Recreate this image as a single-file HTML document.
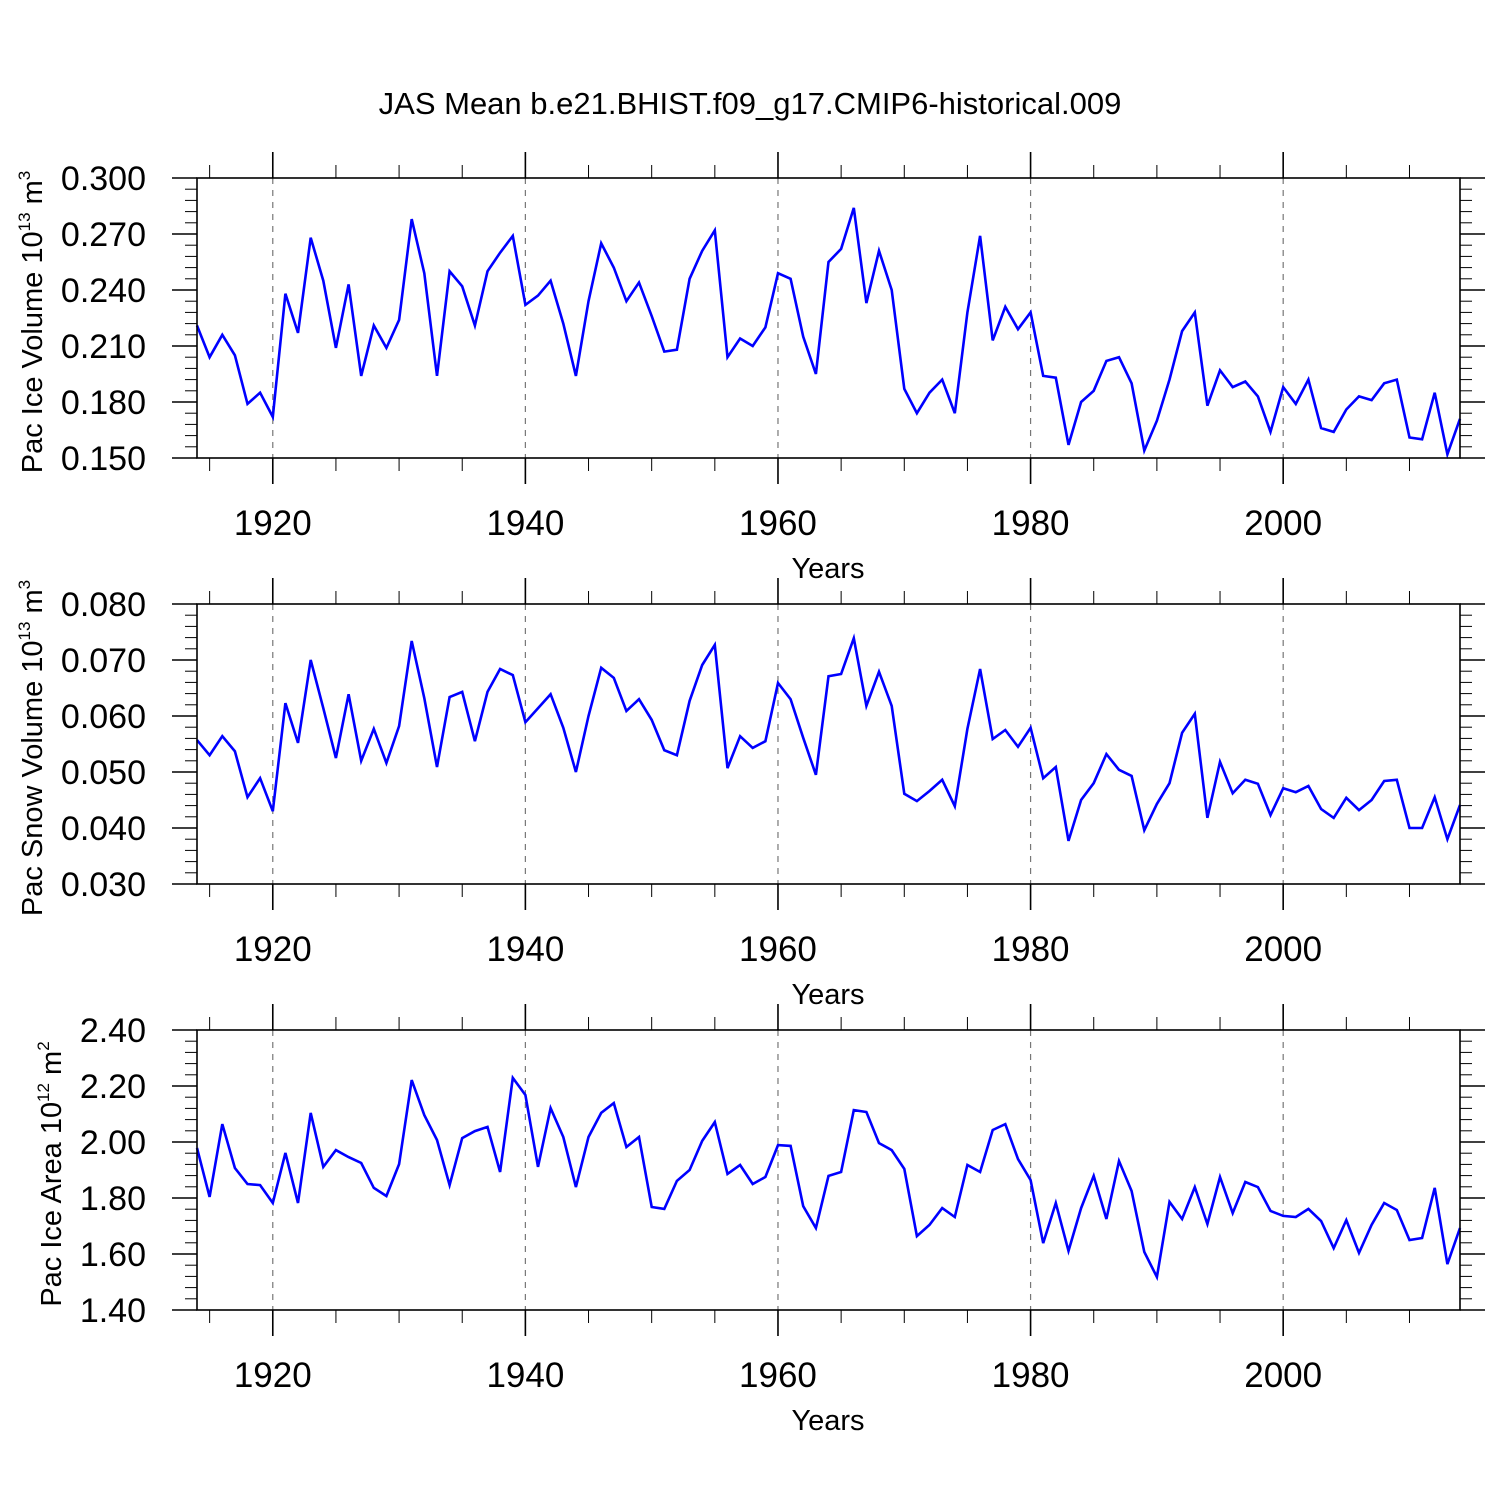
<!DOCTYPE html>
<html><head><meta charset="utf-8"><style>
html,body{margin:0;padding:0;background:#fff;}
svg{display:block;font-family:"Liberation Sans",sans-serif;}
</style></head><body>
<svg id="c" width="1500" height="1500" viewBox="0 0 1500 1500">
<rect width="1500" height="1500" fill="#fff"/>
<text x="750" y="114" text-anchor="middle" font-size="31">JAS Mean b.e21.BHIST.f09_g17.CMIP6-historical.009</text>
</svg>
<script>
const startYear = 1914;
const endYear = 2014;
const xTickYears = [1920, 1940, 1960, 1980, 2000];
const iceVolume = [0.221,0.204,0.216,0.205,0.179,0.185,0.172,0.238,0.217,0.268,0.245,0.209,0.243,0.194,0.221,0.209,0.224,0.278,0.249,0.194,0.250,0.242,0.221,0.250,0.260,0.269,0.232,0.237,0.245,0.222,0.194,0.234,0.265,0.252,0.234,0.244,0.226,0.207,0.208,0.246,0.261,0.272,0.204,0.214,0.210,0.220,0.249,0.246,0.215,0.195,0.255,0.262,0.284,0.233,0.261,0.240,0.187,0.174,0.185,0.192,0.174,0.228,0.269,0.213,0.231,0.219,0.228,0.194,0.193,0.157,0.180,0.186,0.202,0.204,0.190,0.154,0.170,0.192,0.218,0.228,0.178,0.197,0.188,0.191,0.183,0.164,0.188,0.179,0.192,0.166,0.164,0.176,0.183,0.181,0.190,0.192,0.161,0.160,0.185,0.152,0.171];
const snowVolume = [0.0557,0.0530,0.0564,0.0537,0.0455,0.0489,0.0430,0.0623,0.0552,0.0700,0.0614,0.0525,0.0639,0.0520,0.0577,0.0516,0.0582,0.0734,0.0632,0.0509,0.0634,0.0643,0.0555,0.0643,0.0684,0.0673,0.0589,0.0614,0.0639,0.0579,0.0500,0.0600,0.0686,0.0668,0.0609,0.0630,0.0593,0.0539,0.0530,0.0627,0.0691,0.0727,0.0507,0.0564,0.0543,0.0555,0.0659,0.0630,0.0561,0.0495,0.0671,0.0675,0.0739,0.0618,0.0679,0.0618,0.0461,0.0448,0.0466,0.0486,0.0439,0.0577,0.0684,0.0559,0.0575,0.0545,0.0579,0.0489,0.0509,0.0377,0.0450,0.0480,0.0532,0.0504,0.0493,0.0396,0.0443,0.0480,0.0570,0.0604,0.0418,0.0518,0.0462,0.0486,0.0479,0.0423,0.0471,0.0464,0.0475,0.0434,0.0418,0.0454,0.0432,0.0450,0.0484,0.0486,0.0400,0.0400,0.0455,0.0380,0.0441];
const iceArea = [1.979,1.804,2.064,1.907,1.850,1.846,1.782,1.961,1.782,2.104,1.911,1.971,1.946,1.925,1.836,1.807,1.921,2.221,2.096,2.007,1.846,2.014,2.039,2.054,1.893,2.229,2.168,1.911,2.121,2.018,1.839,2.018,2.104,2.139,1.982,2.018,1.768,1.761,1.861,1.900,2.004,2.071,1.886,1.918,1.850,1.875,1.989,1.986,1.771,1.693,1.879,1.893,2.114,2.107,1.996,1.971,1.904,1.664,1.704,1.764,1.732,1.918,1.893,2.043,2.064,1.939,1.864,1.639,1.782,1.611,1.764,1.879,1.725,1.932,1.825,1.607,1.518,1.786,1.725,1.839,1.707,1.875,1.746,1.857,1.839,1.754,1.736,1.732,1.761,1.718,1.621,1.721,1.604,1.704,1.782,1.757,1.650,1.657,1.836,1.564,1.693];
const iceVolTicks = ["0.150","0.180","0.210","0.240","0.270","0.300"];
const snowTicks = ["0.030","0.040","0.050","0.060","0.070","0.080"];
const areaTicks = ["1.40","1.60","1.80","2.00","2.20","2.40"];

const svg = document.getElementById('c');
const NS = 'http://www.w3.org/2000/svg';
const X0 = 197, X1 = 1460;
function xs(yr){ return X0 + (yr - startYear) / (endYear - startYear) * (X1 - X0); }
function mk(tag, attrs){ const e = document.createElementNS(NS, tag); for (const k in attrs) e.setAttribute(k, attrs[k]); svg.appendChild(e); return e; }

function panel(name, top, data, ticks, titleMain, titleExp, titleUnitExp, titleX){
  const H = 280, bot = top + H;
  const vmin = parseFloat(ticks[0]), vmax = parseFloat(ticks[ticks.length-1]);
  const ys = v => bot - (v - vmin) / (vmax - vmin) * H;
  xTickYears.forEach(yr => {
    const g = mk('line', {x1: xs(yr), x2: xs(yr), y1: top, y2: bot, stroke: '#777', 'stroke-width': 1.2, 'stroke-dasharray': '6,6'});
    
    
  });
  for (let yr = 1915; yr <= 2010; yr += 5) {
    const major = xTickYears.includes(yr);
    const len = major ? 26 : 13;
    mk('line', {x1: xs(yr), x2: xs(yr), y1: top - len, y2: top, stroke: '#000', 'stroke-width': major ? 1.6 : 1});
    mk('line', {x1: xs(yr), x2: xs(yr), y1: bot, y2: bot + len, stroke: '#000', 'stroke-width': major ? 1.6 : 1});
  }
  xTickYears.forEach(yr => {
    const t = mk('text', {x: xs(yr), y: bot + 77, 'text-anchor': 'middle', 'font-size': 35});
    t.textContent = yr;
    
    
  });
  const xt = mk('text', {x: 828, y: bot + 120, 'text-anchor': 'middle', 'font-size': 29});
  xt.textContent = 'Years';
  
  
  const n = ticks.length - 1;
  for (let i = 0; i <= n * 5; i++) {
    const y = bot - i / (n * 5) * H;
    const major = i % 5 === 0;
    const len = major ? 25 : 12;
    mk('line', {x1: X0 - len, x2: X0, y1: y, y2: y, stroke: '#000', 'stroke-width': major ? 1.6 : 1});
    mk('line', {x1: X1, x2: X1 + len, y1: y, y2: y, stroke: '#000', 'stroke-width': major ? 1.6 : 1});
  }
  ticks.forEach(tk => {
    const t = mk('text', {x: 146, y: ys(parseFloat(tk)) + 12, 'text-anchor': 'end', 'font-size': 34});
    t.textContent = tk;
    
    
  });
  const cy = top + H / 2 + 4;
  const yt = mk('text', {x: 0, y: 0, 'text-anchor': 'middle', 'font-size': 29, transform: `translate(${titleX},${cy}) rotate(-90)`});
  
  
  const s1 = document.createElementNS(NS, 'tspan'); s1.textContent = titleMain + ' 10'; yt.appendChild(s1);
  const s2 = document.createElementNS(NS, 'tspan'); s2.setAttribute('dy', -12); s2.setAttribute('font-size', 17); s2.textContent = titleExp; yt.appendChild(s2);
  const s3 = document.createElementNS(NS, 'tspan'); s3.setAttribute('dy', 12); s3.textContent = ' m'; yt.appendChild(s3);
  const s4 = document.createElementNS(NS, 'tspan'); s4.setAttribute('dy', -12); s4.setAttribute('font-size', 17); s4.textContent = titleUnitExp; yt.appendChild(s4);
  const pts = data.map((v, i) => xs(startYear + i).toFixed(1) + ',' + ys(v).toFixed(1)).join(' ');
  const pl = mk('polyline', {points: pts, fill: 'none', stroke: '#0000ff', 'stroke-width': 2.6, 'stroke-linejoin': 'miter'});
  
  
  const fr = mk('rect', {x: X0, y: top, width: X1 - X0, height: H, fill: 'none', stroke: '#000', 'stroke-width': 1.6});
  
  
}
panel('ice-volume-panel', 178, iceVolume, iceVolTicks, 'Pac Ice Volume', '13', '3', 42);
panel('snow-volume-panel', 604, snowVolume, snowTicks, 'Pac Snow Volume', '13', '3', 42);
panel('ice-area-panel', 1030, iceArea, areaTicks, 'Pac Ice Area', '12', '2', 61);
</script>
</body></html>
